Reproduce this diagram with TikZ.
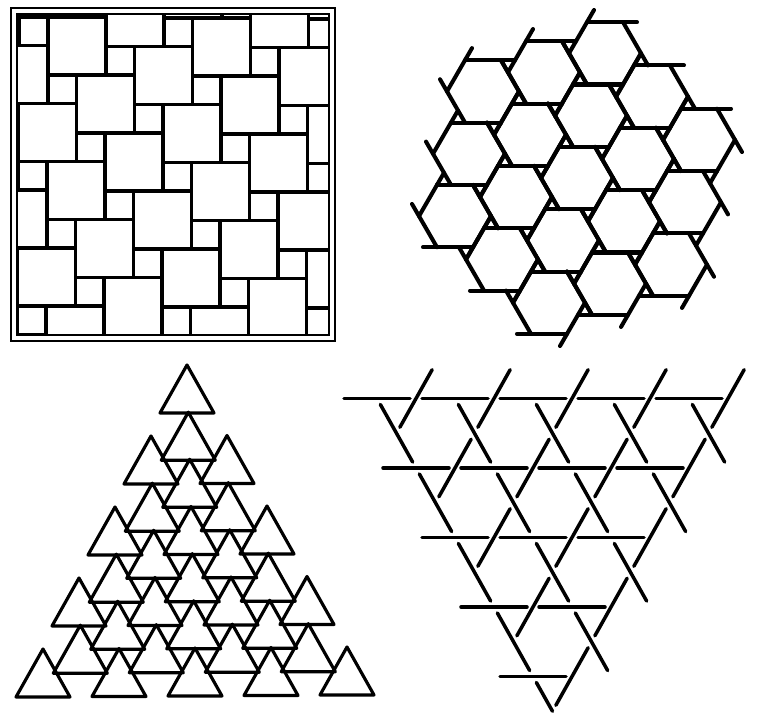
\documentclass[tikz,border=0pt]{standalone}
\usepackage{tikz}
\usetikzlibrary{calc}
\tikzset{tileline/.style={line width=2pt,line join=miter},
  borderline/.style={line width=1.1pt},
  hexline/.style={line width=2.3pt,line cap=round},
  triline/.style={line width=1.8pt,line join=round},
  weave/.style={line width=2pt,line cap=round}}
\newcommand{\tri}[2]{\draw[triline] ({#1},{#2}) -- ++(-27,48) -- ++(54,0) -- cycle;}

\begin{document}
\begin{tikzpicture}[x=0.02cm,y=-0.02cm]
\useasboundingbox (0,0) rectangle (757,714);
% squares, big and small
\begin{scope}
\clip (17,14) rectangle (329,335);
\foreach \i in {-4,...,5}
  \foreach \j in {-2,...,7}
    \draw[tileline] ({48+58*\i+28.5*\j},{17-28.5*\i+58*\j}) rectangle ++(58,58);
\end{scope}
\draw[borderline] (11,8) rectangle (335,341);
\draw[borderline] (17,14) rectangle (329,335);
% hexagons with little triangles
\foreach \i/\j in {0/0,1/0,2/0,0/1,1/1,2/1,3/1,0/2,1/2,2/2,3/2,4/2,1/3,2/3,3/3,4/3,2/4,3/4,4/4}{
  \coordinate (c) at ({483+61*\i-14*\j},{91.4-19.05*\i+62.35*\j});
  \foreach \k in {0,...,5}
    \draw[hexline] ($(c)+({-60*\k}:36)+({60-60*\k}:14)$) -- ($(c)+({-60*\k-60}:36)$);
}
% triangle of triangles
\foreach \i in {0,...,4}{
  \foreach \j in {0,...,4}{
    \ifnum\numexpr\i+\j\relax<5 \tri{187-36*\i+40*\j}{365+71*\i+70.5*\j}\fi
    \ifnum\numexpr\i+\j\relax<4 \tri{188.3-36*\i+40*\j}{412.2+71*\i+70.5*\j}\fi
    \ifnum\numexpr\i+\j\relax<3 \tri{189.7-36*\i+40*\j}{459.3+71*\i+70.5*\j}\fi
  }
}
% woven bars
\foreach \k in {0,...,4}{
  \pgfmathtruncatemacro\n{4-\k}
  \foreach \j in {0,...,\n}{
    \draw[weave] ({344+39*\k+78*\j},{398.5+69.5*\k}) -- ++(66,0);
    \ifnum\k<4
      \draw[weave] ({380.35+39*\k+78*\j},{404.45+69.5*\k}) -- ++(32.3,57.6);
    \else
      \draw[weave] ({380.35+39*\k+78*\j},{404.45+69.5*\k}) -- ++(16.15,28.8);
    \fi
  }
  \foreach \j in {\k,...,4}
    \draw[weave] ({399.85-39*\k+78*\j},{427.3+69.5*\k}) -- ++(32.3,-57.6);
}
\end{tikzpicture}
\end{document}
